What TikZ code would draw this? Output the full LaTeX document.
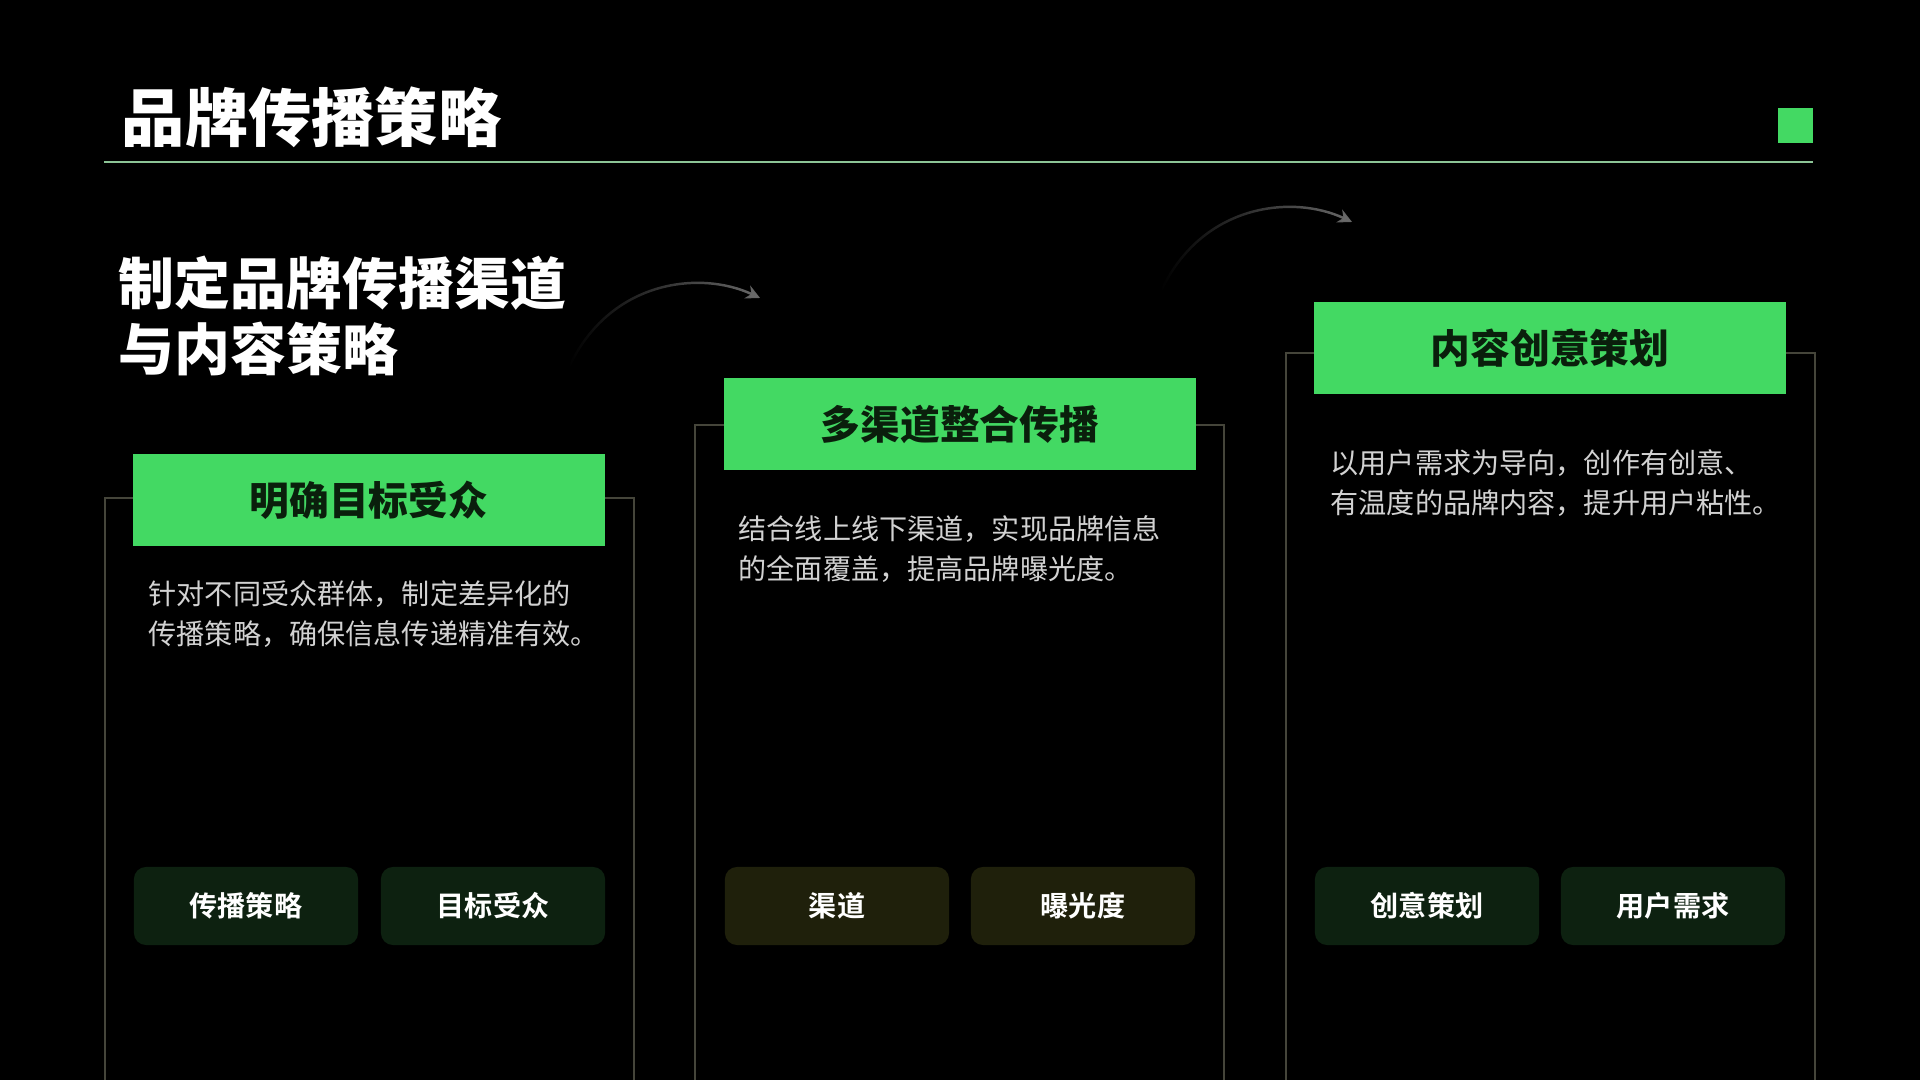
\documentclass[tikz,border=0pt]{standalone}
\usepackage{fontspec}
\setmainfont{Noto Sans CJK SC}[BoldFont={Noto Sans CJK SC Bold}]
\newfontfamily\heavyfont{Noto Sans CJK SC Black}
\usepackage{tikz}
\usetikzlibrary{arrows.meta,fadings}

\definecolor{brandgreen}{HTML}{43D963}
\definecolor{headtext}{HTML}{0A1F0C}
\definecolor{desctext}{HTML}{D2D2D2}
\definecolor{cardline}{HTML}{45453A}
\definecolor{tagdark}{HTML}{0D2110}
\definecolor{tagolive}{HTML}{1F200B}
\definecolor{ruleline}{HTML}{8CC496}
\definecolor{arrowgray}{HTML}{6A6A6A}

\begin{document}
\begin{tikzpicture}[x=0.01cm,y=-0.01cm,
      card/.style={draw=cardline,line width=0.5pt},
      header/.style={fill=brandgreen,minimum width=4.72cm,minimum height=0.91cm,
        inner sep=0pt,text=headtext,font=\heavyfont\fontsize{11.3}{13}\selectfont},
      desc/.style={anchor=west,align=left,inner sep=0pt,text=desctext,
        font=\fontsize{8}{11.4}\selectfont},
      tag/.style={rounded corners=0.12cm,minimum width=2.24cm,minimum height=0.78cm,
        inner sep=0pt,text=white,font=\bfseries\fontsize{8}{10}\selectfont},
      flow/.style={draw=arrowgray,line width=0.7pt,path fading=west,
        -{Stealth[length=4pt,width=4pt]}}]
    \fill[black] (0,0) rectangle (1920,1080);
    \useasboundingbox (0,0) rectangle (1920,1080);

    % title
    \node[anchor=west,inner sep=0pt,text=white,
      font=\heavyfont\fontsize{18}{22}\selectfont] (title) at (121,117) {品牌传播策略};
    \draw[ruleline,line width=0.4pt] (104,162) -- (1813,162);
    \fill[brandgreen] (1778,108) rectangle (1813,143);

    \node[anchor=west,align=left,inner sep=0pt,text=white,
      font=\heavyfont\fontsize{15.9}{18.8}\selectfont] (subtitle) at (118,316)
      {制定品牌传播渠道\\与内容策略};

    % arrows
    \coordinate (flowAs) at (569,367);
    \coordinate (flowAe) at (760,298);
    \coordinate (flowBs) at (1161,291);
    \coordinate (flowBe) at (1352,222);
    \draw[flow] (flowAs) .. controls (610,280) and (700,270) .. (flowAe);
    \draw[flow] (flowBs) .. controls (1202,204) and (1292,194) .. (flowBe);

    % card outlines
    \draw[card] (105,1080) -- (105,498) -- (634,498) -- (634,1080);
    \draw[card] (695,1080) -- (695,425) -- (1224,425) -- (1224,1080);
    \draw[card] (1286,1080) -- (1286,353) -- (1815,353) -- (1815,1080);

    % card 1
    \node[header] (audience) at (369,500) {明确目标受众};
    \node[desc] (audiencetext) at (148,614)
      {针对不同受众群体，制定差异化的\\传播策略，确保信息传递精准有效。};
    \node[tag,fill=tagdark] (tagstrategy) at (246,906) {传播策略};
    \node[tag,fill=tagdark] (tagaudience) at (493,906) {目标受众};

    % card 2
    \node[header] (channels) at (960,424) {多渠道整合传播};
    \node[desc] (channelstext) at (738,549)
      {结合线上线下渠道，实现品牌信息\\的全面覆盖，提高品牌曝光度。};
    \node[tag,fill=tagolive] (tagchannel) at (837,906) {渠道};
    \node[tag,fill=tagolive] (tagexposure) at (1083,906) {曝光度};

    % card 3
    \node[header] (content) at (1550,348) {内容创意策划};
    \node[desc] (contenttext) at (1330,483)
      {以用户需求为导向，创作有创意、\\有温度的品牌内容，提升用户粘性。};
    \node[tag,fill=tagdark] (tagcreative) at (1427,906) {创意策划};
    \node[tag,fill=tagdark] (taguser) at (1673,906) {用户需求};
  \end{tikzpicture}
\end{document}
